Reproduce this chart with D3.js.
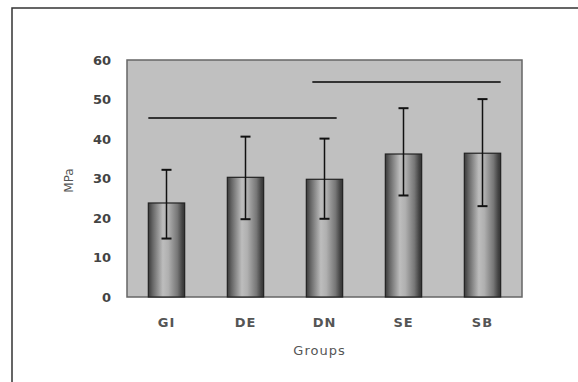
<!DOCTYPE html>
<html>
<head>
<meta charset="utf-8">
<script src="https://cdn.jsdelivr.net/npm/d3@7"></script>
<style>
  body { margin: 0; background: #fff; overflow: hidden; }
  text { font-family: "DejaVu Sans", sans-serif; fill: #333; }
</style>
</head>
<body>
<svg id="chart"></svg>
<script>
//DATA
const groups = ["GI", "DE", "DN", "SE", "SB"];
const means = [23.8, 30.3, 29.8, 36.2, 36.4];
const upper = [32.2, 40.6, 40.1, 47.8, 50.1];
const lower = [14.8, 19.7, 19.8, 25.7, 23.0];
const yTicks = [0, 10, 20, 30, 40, 50, 60];
// significance lines: [from group, to group, level]
const sigLines = [["GI", "DN", 45.3], ["DN", "SB", 54.4]];

//SIZES
const W = 578, H = 382;
const margin = {top: 60, right: 56, bottom: 85, left: 127};
const width = W - margin.left - margin.right;
const height = H - margin.top - margin.bottom;

const svg = d3.select("#chart").attr("width", W).attr("height", H);

// outer frame: only top and left edges are in view
svg.append("path")
  .attr("d", `M12,${H} V8 H${W}`)
  .attr("fill", "none").attr("stroke", "#333").attr("stroke-width", 1.5);

// bar gradient (cylinder look)
const grad = svg.append("defs").append("linearGradient").attr("id", "cyl");
[[0, "#3a3a3a"], [0.12, "#666"], [0.4, "#bdbdbd"], [0.55, "#b0b0b0"], [0.8, "#777"], [0.93, "#444"], [1, "#333"]]
  .forEach(s => grad.append("stop").attr("offset", s[0]).attr("stop-color", s[1]));

const g = svg.append("g").attr("transform", `translate(${margin.left},${margin.top})`);

var x = d3.scaleBand().domain(groups).range([0, width]).paddingInner(0.54).paddingOuter(0.27);
var y = d3.scaleLinear().domain([0, 60]).range([height, 0]);

// plot background
g.append("rect")
  .attr("width", width).attr("height", height)
  .attr("fill", "#c0c0c0").attr("stroke", "#666").attr("stroke-width", 1.5);

// bars
g.selectAll(".bar").data(groups).enter().append("rect")
  .attr("class", "bar")
  .attr("x", d => x(d))
  .attr("y", (d, i) => y(means[i]))
  .attr("width", x.bandwidth())
  .attr("height", (d, i) => height - y(means[i]))
  .attr("fill", "url(#cyl)")
  .attr("stroke", "#222").attr("stroke-width", 1.2);

// error bars
const cx = d => x(d) + x.bandwidth() / 2;
g.selectAll(".err").data(groups).enter().append("line")
  .attr("x1", cx).attr("x2", cx)
  .attr("y1", (d, i) => y(upper[i])).attr("y2", (d, i) => y(lower[i]))
  .attr("stroke", "#111").attr("stroke-width", 1.5);
[upper, lower].forEach(arr => {
  g.selectAll(null).data(groups).enter().append("line")
    .attr("x1", d => cx(d) - 5).attr("x2", d => cx(d) + 5)
    .attr("y1", (d, i) => y(arr[i])).attr("y2", (d, i) => y(arr[i]))
    .attr("stroke", "#111").attr("stroke-width", 2);
});

// significance lines
g.selectAll(".sig").data(sigLines).enter().append("line")
  .attr("x1", d => x(d[0]) + (d[0] === "GI" ? 0 : 6))
  .attr("x2", d => x(d[1]) + x.bandwidth() - (d[1] === "DN" ? 6 : 0))
  .attr("y1", d => y(d[2])).attr("y2", d => y(d[2]))
  .attr("stroke", "#333").attr("stroke-width", 2);

// y axis labels
g.selectAll(".ytick").data(yTicks).enter().append("text")
  .attr("x", -16).attr("y", d => y(d)).attr("dy", "0.35em")
  .attr("text-anchor", "end")
  .style("font-size", "13px").style("font-weight", "bold").style("fill", "#444")
  .text(d => d);

// x axis labels
g.selectAll(".xtick").data(groups).enter().append("text")
  .attr("x", cx).attr("y", height + 25)
  .attr("dy", "0.35em").attr("text-anchor", "middle")
  .style("font-size", "13px").style("font-weight", "bold").style("fill", "#555")
  .style("letter-spacing", "1px")
  .text(d => d);

// axis titles
g.append("text")
  .attr("x", width / 2 - 5).attr("y", height + 53)
  .attr("dy", "0.35em").attr("text-anchor", "middle")
  .style("font-size", "13px").style("fill", "#555")
  .style("letter-spacing", "1px")
  .text("Groups");

g.append("text")
  .attr("transform", `translate(${-58},${y(30) + 2}) rotate(-90)`)
  .attr("dy", "0.35em").attr("text-anchor", "middle")
  .style("font-size", "12px").style("fill", "#555")
  .text("MPa");
</script>
</body>
</html>
